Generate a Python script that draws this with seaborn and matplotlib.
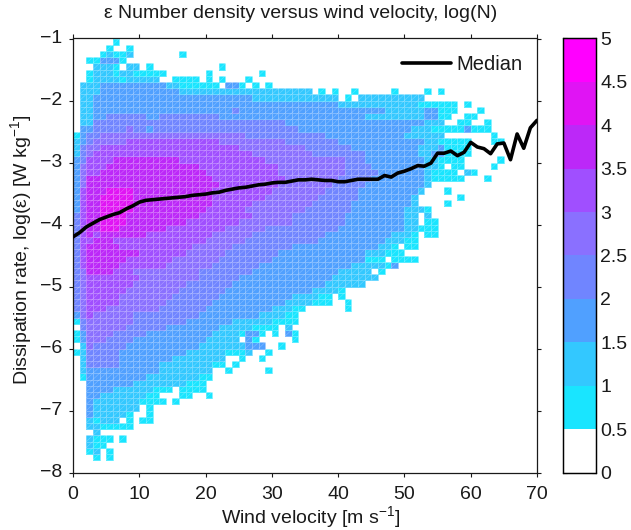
"""
Dissipation rate number density versus wind velocity, with median line
"""

import numpy as np
import pandas as pd
import matplotlib
matplotlib.use("Agg")
import matplotlib.pyplot as plt
import seaborn as sns
from matplotlib.colors import ListedColormap
from matplotlib.collections import LineCollection

# Wind velocity bins are 1 m/s, log(eps) bins are 0.1, from -1 at the top row down
WIND_BINS = list(range(70))
EPS_TOP_ROWS = 70

# each row: "level>end" runs, level is the 0.5 wide log(N) class
ROW_RUNS = [
    "0>6 1>7",
    "0>5 1>6 0>8 1>9",
    "0>4 1>5 2>6 1>8 2>9 0>16 1>17",
    "0>2 1>4 3>7 1>8",
    "0>3 2>6 1>7 0>8 2>10 0>11 1>12 0>22 1>23",
    "0>2 1>3 2>6 1>7 2>9 1>14 0>20 1>21 0>28 1>29",
    "0>2 1>3 2>7 1>8 2>13 0>15 1>19 0>20 1>21 0>22 1>23 0>26 1>27",
    "0>1 2>4 3>14 2>16 1>22 0>23 3>25 1>26 0>27 1>28 0>29 1>30",
    "0>1 2>4 3>16 2>36 0>37 1>38 0>39 1>40 0>42 1>43 0>48 1>49 0>53 1>54 0>55 1>56",
    "0>1 2>3 3>27 2>40 0>41 1>42 0>43 2>53",
    "0>1 2>3 3>40 2>52 1>58 0>59 1>60",
    "0>1 2>3 3>24 4>25 3>47 2>53 3>55 1>58 0>61 1>62",
    "0>1 2>3 3>5 4>11 3>13 4>22 3>44 2>53 3>55 1>57 0>59 1>61",
    "0>1 2>3 4>32 3>53 2>56 0>58 1>60 0>62 1>63",
    "0>1 3>3 4>8 5>9 4>11 3>12 4>34 3>51 2>54 1>59 3>60 1>63",
    "1>1 3>2 4>4 5>26 4>38 3>50 2>56 0>63 1>64",
    "2>1 3>2 4>3 5>8 6>22 5>32 4>40 3>53 2>55 1>60 0>63 1>65",
    "2>1 4>2 5>4 6>25 5>35 4>42 3>52 2>55 3>56 1>60",
    "2>1 4>2 5>3 6>27 5>36 4>44 3>52 2>54 3>56 1>60",
    "3>1 4>2 6>6 7>16 6>29 5>41 4>44 3>53 2>55 1>59 0>64 1>65",
    "3>1 5>2 6>5 7>19 6>31 5>41 4>45 3>53 2>55 1>56 0>57 1>59 0>63 1>64",
    "3>1 5>2 6>4 7>20 6>31 5>41 4>46 3>53 2>54 1>58 0>59 2>60 1>61",
    "3>1 5>2 7>21 6>32 5>40 4>45 3>53 2>54 1>59 0>62 1>63",
    "3>1 5>2 7>22 6>31 5>39 4>44 3>53 2>54",
    "3>1 6>2 7>5 8>9 7>21 6>30 5>38 4>43 3>52 2>53 0>56 1>57",
    "3>1 6>2 7>4 8>9 7>21 6>29 5>37 4>43 3>51 2>52 0>58 1>59",
    "3>1 6>2 7>4 8>9 7>21 6>27 5>36 4>42 3>51 2>52 0>56 1>57",
    "3>1 6>2 7>4 8>9 7>20 6>26 5>35 4>42 3>50 2>53 1>54",
    "4>1 6>2 7>4 8>8 7>19 6>27 5>33 4>41 3>50 2>52 0>53 2>54",
    "4>1 6>2 7>4 8>8 7>17 6>25 5>33 4>41 3>50 2>52 0>53 1>55",
    "4>1 6>2 7>4 8>7 7>14 6>23 5>29 4>40 3>50 2>52 1>55",
    "4>1 6>2 7>3 6>4 7>11 6>21 5>27 4>38 3>48 2>51 1>52 0>53 1>55",
    "4>1 6>3 7>6 6>20 5>26 4>37 3>47 2>50 1>52",
    "4>1 6>2 7>7 6>18 5>24 4>33 3>46 2>48 1>49 0>50 1>52",
    "4>1 6>2 7>10 6>17 5>23 4>31 3>44 2>47 1>50",
    "4>1 6>2 7>8 6>15 5>22 4>30 3>44 1>47 0>48 1>52",
    "4>1 6>2 7>7 6>14 5>21 4>28 3>42 2>47 1>48 3>49",
    "4>1 5>2 7>6 6>9 5>19 4>27 3>40 2>45 0>46 1>47",
    "4>1 5>2 6>10 5>19 4>25 3>39 2>46",
    "4>1 5>2 6>9 5>17 4>24 3>38 2>44",
    "4>1 5>2 6>8 5>16 4>23 3>36 2>40 1>41",
    "4>1 5>2 6>7 5>15 4>22 3>33 2>37 1>39 0>40 1>41",
    "4>1 5>2 6>7 5>14 4>21 3>32 2>36 1>39 0>41 1>42",
    "4>1 5>2 6>5 5>13 4>20 3>30 2>33 1>35 0>41 1>42",
    "3>1 5>2 6>3 5>9 4>19 3>28 2>32 1>34",
    "1>1 4>2 5>9 4>17 3>24 2>30 1>34",
    "0>1 4>2 5>8 4>14 3>22 2>27 1>31 0>32 2>33",
    "1>1 3>2 5>6 4>11 3>21 2>25 1>26 3>28 1>29 0>30 1>31 0>32 3>33 1>34",
    "1>1 3>2 5>5 4>9 3>20 2>25 0>26 3>27 1>28 0>33 1>34",
    "0>1 2>2 5>3 4>8 3>19 2>26 3>29 0>31 1>32",
    "1>1 2>2 4>7 3>17 2>23 1>26 2>27 0>29 1>30",
    "0>1 2>2 4>7 3>15 2>23 0>25 1>26 0>28 1>29",
    "0>1 2>2 4>7 3>13 2>21 1>23 0>24 1>25",
    "0>1 2>2 3>13 2>21 0>23 1>24 0>29 1>30",
    "0>1 1>2 3>11 2>19 1>21",
    "0>2 3>9 2>17 1>20",
    "0>2 3>6 2>12 1>15 0>16 1>20",
    "0>2 3>4 2>11 1>13 0>16 1>18 0>20 1>21",
    "0>2 3>3 2>10 1>14 0>15 1>16",
    "0>2 3>3 2>10 0>11 1>12",
    "0>2 3>3 2>8 1>9 0>11 1>12",
    "0>2 2>3 1>4 2>7 0>8 1>9 0>10 1>12",
    "0>2 2>4 1>9",
    "0>3 2>4",
    "0>2 2>3 1>6 0>7 1>8",
    "0>2 2>3 1>5",
    "0>2 1>3 2>4 0>5 1>6",
    "0>3 1>4 0>5 1>6",
    "0>1",
    "0>1",
]

# Median log(eps) at each wind velocity
MEDIAN_WIND = list(range(71))
MEDIAN_EPS = [
    -4.20, -4.13, -4.04, -3.98, -3.92, -3.88, -3.84, -3.81, -3.75, -3.70,
    -3.64, -3.61, -3.60, -3.59, -3.58, -3.57, -3.56, -3.55, -3.53, -3.52,
    -3.51, -3.49, -3.48, -3.45, -3.43, -3.41, -3.40, -3.38, -3.36, -3.35,
    -3.33, -3.32, -3.32, -3.30, -3.28, -3.28, -3.27, -3.28, -3.29, -3.29,
    -3.31, -3.31, -3.29, -3.27, -3.27, -3.27, -3.27, -3.21, -3.235, -3.17,
    -3.14, -3.10, -3.05, -3.06, -3.01, -2.85, -2.85, -2.815, -2.89, -2.835,
    -2.675, -2.75, -2.777, -2.858, -2.70, -2.686, -2.955, -2.54, -2.77, -2.44,
    -2.32,
]

LEVEL_COLORS = ["#ffffff", "#19e5ff", "#33c8ff", "#50a0ff", "#7085ff",
                "#8a70ff", "#a04fff", "#bc28f8", "#e014f4", "#ff00ff"]
CBAR_TICKS = [0, 0.5, 1, 1.5, 2, 2.5, 3, 3.5, 4, 4.5, 5]
CBAR_LABELS = ["0", "0.5", "1", "1.5", "2", "2.5", "3", "3.5", "4", "4.5", "5"]
X_TICKS = [0, 10, 20, 30, 40, 50, 60, 70]
Y_TICKS = [-8, -7, -6, -5, -4, -3, -2, -1]
INK = "#1a1a1a"


def decode_rows(rows, n_cols):
    """Turn the level>end run strings into a level matrix, top row first."""
    levels = np.zeros((len(rows), n_cols))
    for r, row in enumerate(rows):
        start = 0
        for run in row.split():
            level, end = run.split(">")
            levels[r, start:int(end)] = int(level)
            start = int(end)
    return levels


def eps_to_row(values):
    """log(eps) to heatmap row coordinate (bottom row is -8)."""
    return (np.asarray(values, dtype=float) + 8) * 10


sns.set_theme(style="white")
plt.rcParams["font.family"] = ["Liberation Sans", "DejaVu Sans"]
plt.rcParams["mathtext.default"] = "regular"
plt.rcParams["axes.unicode_minus"] = True

levels = decode_rows(ROW_RUNS, len(WIND_BINS))[::-1]
table = pd.DataFrame(levels * 0.5 + 0.25, columns=WIND_BINS)

fig = plt.figure(figsize=(6.31, 5.30), dpi=100)
W, H = 631.0, 530.0
ax = fig.add_axes([73 / W, 1 - 472.5 / H, 464 / W, 434 / H])
cax = fig.add_axes([562.5 / W, 1 - 472.5 / H, 33.5 / W, 434 / H])

sns.heatmap(
    table,
    ax=ax,
    cbar_ax=cax,
    mask=levels == 0,
    cmap=ListedColormap(LEVEL_COLORS),
    vmin=0,
    vmax=5,
    linewidths=0.5,
    linecolor=(1, 1, 1, 0.28),
    cbar_kws={"ticks": CBAR_TICKS},
)

# thin diagonal in each filled cell
rows, cols = np.nonzero(levels)
diagonals = [[(c, r), (c + 1, r + 1)] for r, c in zip(rows, cols)]
ax.add_collection(LineCollection(diagonals, colors=[(1, 1, 1, 0.3)], linewidths=0.4))

ax.plot(MEDIAN_WIND, eps_to_row(MEDIAN_EPS), color="black", lw=2.6,
        solid_joinstyle="round", label="Median", zorder=5)

ax.set_xlim(0, 70)
ax.set_ylim(0, EPS_TOP_ROWS)
ax.set_xticks(X_TICKS)
ax.set_xticklabels([str(t) for t in X_TICKS], rotation=0)
ax.set_yticks(eps_to_row(Y_TICKS))
ax.set_yticklabels([f"\u2212{abs(t)}" for t in Y_TICKS], rotation=0)
ax.tick_params(axis="both", which="major", direction="out", length=3, width=0.8,
               top=True, right=True, bottom=True, left=True,
               labelsize=14, pad=4.5, color=INK, labelcolor=INK)
ax.tick_params(axis="x", pad=6.5)
for spine in ax.spines.values():
    spine.set_visible(True)
    spine.set_linewidth(0.9)
    spine.set_color(INK)

ax.set_xlabel("Wind velocity [m s$^{-1}$]", fontsize=14, color=INK)
ax.xaxis.set_label_coords(0.512, -0.072)
ax.set_ylabel("Dissipation rate, log(\u03b5) [W kg$^{-1}$]", fontsize=14, color=INK)
ax.yaxis.set_label_coords(-0.083, 0.513)
ax.set_title("\u03b5 Number density versus wind velocity, log(N)", fontsize=14, pad=15,
             x=0.49, color=INK)

legend = ax.legend(loc="upper right", bbox_to_anchor=(1, 0.995), frameon=False,
                   fontsize=14.5, handlelength=2.4, borderpad=0, borderaxespad=0.7,
                   handletextpad=0.3)
for text in legend.get_texts():
    text.set_color(INK)

cax.set_yticklabels(CBAR_LABELS)
cax.tick_params(axis="y", direction="in", length=3, width=0.8, left=True, right=True,
                labelsize=14, pad=3, color=INK, labelcolor=INK)
for spine in cax.spines.values():
    spine.set_visible(True)
    spine.set_linewidth(0.9)
    spine.set_color("black")

fig.savefig("out.png", dpi=100)
plt.close(fig)
